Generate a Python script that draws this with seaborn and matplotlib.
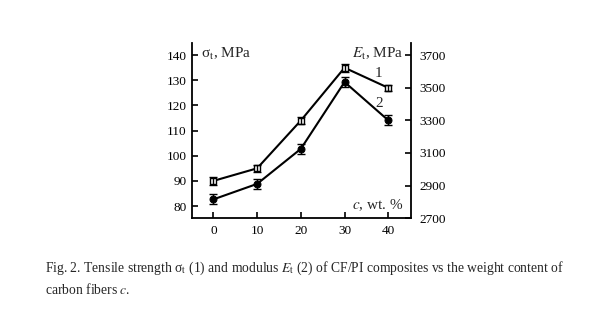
import matplotlib
matplotlib.use("Agg")
import matplotlib.pyplot as plt
import seaborn as sns
import pandas as pd

# Carbon fibre content, wt. %
content = [0, 10, 20, 30, 40]
# Tensile strength sigma_t, MPa (curve 1) and its scatter
strength = [90, 95, 114, 135, 127]
strength_err = [1.5, 1.5, 1.5, 1.5, 1.2]
# Tensile modulus E_t, MPa (curve 2) and its scatter
modulus = [2815, 2910, 3125, 3535, 3300]
modulus_err = [30, 30, 30, 30, 30]

left_ticks = [80, 90, 100, 110, 120, 130, 140]
right_ticks = [2700, 2900, 3100, 3300, 3500, 3700]
x_ticks = [0, 10, 20, 30, 40]

sns.set_style("ticks")
plt.rcParams["font.family"] = ["Liberation Serif", "DejaVu Serif"]
plt.rcParams["mathtext.fontset"] = "stix"

df = pd.DataFrame({"c": content, "sigma": strength, "E": modulus})

fig = plt.figure(figsize=(6.0, 3.34), dpi=100)
ax = fig.add_axes([0.320, 0.347, 0.365, 0.524])
ax2 = ax.twinx()

sns.lineplot(data=df, x="c", y="sigma", ax=ax, color="black", lw=1.5,
             marker="s", markersize=5, markerfacecolor="white",
             markeredgecolor="black", markeredgewidth=1.0, zorder=3)
ax.errorbar(content, strength, yerr=strength_err, fmt="none",
            ecolor="black", elinewidth=1.0, capsize=3, capthick=1.0, zorder=4)

sns.lineplot(data=df, x="c", y="E", ax=ax2, color="black", lw=1.5,
             marker="o", markersize=5, markerfacecolor="black",
             markeredgecolor="black", zorder=3)
ax2.errorbar(content, modulus, yerr=modulus_err, fmt="none",
             ecolor="black", elinewidth=1.0, capsize=3, capthick=1.0, zorder=4)

ax.set_xlim(-4.9, 45.2)
ax.set_ylim(75.2, 144.8)
ax2.set_ylim(2700, 3774)

ax.set_xticks(x_ticks)
ax.set_yticks(left_ticks)
ax2.set_yticks(right_ticks)

for a in (ax, ax2):
    a.set_xlabel("")
    a.set_ylabel("")
    a.spines["top"].set_visible(False)
    for s in a.spines.values():
        s.set_linewidth(1.3)
        s.set_color("black")
    a.tick_params(direction="in", length=4, width=1.2, labelsize=9.5,
                  colors="black", pad=5)
ax.spines["right"].set_visible(False)
ax2.spines["left"].set_visible(False)
ax2.spines["bottom"].set_visible(False)
ax.tick_params(axis="y", pad=4)
ax2.tick_params(axis="y", pad=6)

ax.text(0.04, 0.985, r"σ$_\mathrm{t}$, MPa", transform=ax.transAxes,
        ha="left", va="top", fontsize=11)
ax.text(0.965, 0.985, r"$E_\mathrm{t}$, MPa", transform=ax.transAxes,
        ha="right", va="top", fontsize=11)
ax.text(0.965, 0.03, r"$c$, wt. %", transform=ax.transAxes,
        ha="right", va="bottom", fontsize=11)
ax.text(37.7, 132.8, "1", ha="center", va="center", fontsize=11)
ax.text(37.9, 120.9, "2", ha="center", va="center", fontsize=11)

fig.text(45 / 600, 1 - 268 / 334,
         r"Fig. 2. Tensile strength σ$_\mathrm{t}$ (1) and modulus $E_\mathrm{t}$ (2) "
         r"of CF/PI composites vs the weight content of",
         ha="left", va="center", fontsize=9.8)
fig.text(45 / 600, 1 - 289 / 334, r"carbon fibers $c$.",
         ha="left", va="center", fontsize=9.8)

fig.savefig("out.png", dpi=100)
